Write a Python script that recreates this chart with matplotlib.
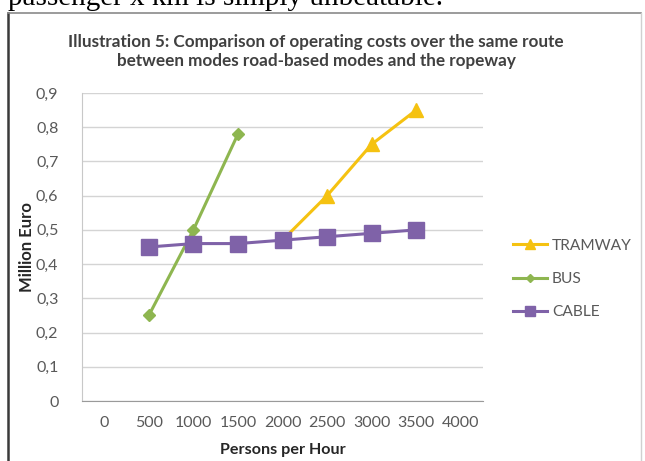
import numpy as np
import matplotlib
matplotlib.use("Agg")
import matplotlib.pyplot as plt
from matplotlib.lines import Line2D

# persons per hour (category axis) and operating cost in million euro
persons = ["0", "500", "1000", "1500", "2000", "2500", "3000", "3500", "4000"]
tramway = [np.nan, np.nan, np.nan, np.nan, 0.47, 0.60, 0.75, 0.85, np.nan]
bus = [np.nan, 0.25, 0.50, 0.78, np.nan, np.nan, np.nan, np.nan, np.nan]
cable = [np.nan, 0.45, 0.46, 0.46, 0.47, 0.48, 0.49, 0.50, np.nan]
y_ticks = [0, 0.1, 0.2, 0.3, 0.4, 0.5, 0.6, 0.7, 0.8, 0.9]
y_labels = ["0", "0,1", "0,2", "0,3", "0,4", "0,5", "0,6", "0,7", "0,8", "0,9"]

W, H = 645, 461
fig = plt.figure(figsize=(W / 100, H / 100), dpi=100)
fig.patch.set_facecolor("white")

# running text of the page above the chart frame
fig.text(8 / W, 1 - 5 / H, "passenger x km is simply unbeatable.",
         family="Liberation Serif", fontsize=21, color="black",
         ha="left", va="baseline")

# chart frame
fig.add_artist(Line2D([8 / W, 8 / W], [0, 1 - 13 / H], transform=fig.transFigure,
                      color="#3a3a3a", lw=1.8))
fig.add_artist(Line2D([8 / W, 641 / W], [1 - 13 / H, 1 - 13 / H], transform=fig.transFigure,
                      color="#8a8a8a", lw=1.2))
fig.add_artist(Line2D([641 / W, 641 / W], [0, 1 - 13 / H], transform=fig.transFigure,
                      color="#d0d0d0", lw=1.0))

font = "Lato"
grey = "#595959"

fig.text(316 / W, 1 - 42 / H,
         "Illustration 5: Comparison of operating costs over the same route",
         family=font, fontweight="bold", fontsize=12.3, color="#404040",
         ha="center", va="center")
fig.text(316 / W, 1 - 61 / H,
         "between modes road-based modes and the ropeway",
         family=font, fontweight="bold", fontsize=12.3, color="#404040",
         ha="center", va="center")

ax = fig.add_axes([82 / W, 1 - 401 / H, (483 - 82) / W, (401 - 93) / H])
x = np.arange(len(persons))

ax.plot(x, tramway, color="#F5C211", lw=2.2, marker="^", markersize=10,
        label="TRAMWAY", zorder=3)
ax.plot(x, bus, color="#8EB650", lw=2.2, marker="D", markersize=6.5,
        label="BUS", zorder=3)
ax.plot(x, cable, color="#7F62A8", lw=2.2, marker="s", markersize=11,
        label="CABLE", zorder=4)

ax.set_xlim(-0.5, len(persons) - 0.5)
ax.set_ylim(0, 0.9)
ax.set_xticks(x)
ax.set_xticklabels(persons)
ax.set_yticks(y_ticks)
ax.set_yticklabels(y_labels)
ax.tick_params(length=0, labelsize=11.5, labelcolor=grey)
ax.tick_params(axis="y", pad=17)
ax.tick_params(axis="x", pad=11)
for lab in ax.get_xticklabels() + ax.get_yticklabels():
    lab.set_family(font)

ax.grid(axis="y", color="#d4d4d4", lw=1)
ax.set_axisbelow(True)
for side in ["top", "right"]:
    ax.spines[side].set_visible(False)
ax.spines["left"].set_color("#c8c8c8")
ax.spines["bottom"].set_color("#9a9a9a")

ax.set_xlabel("Persons per Hour", family=font, fontweight="bold", fontsize=11.6,
              color="#262626")
ax.set_ylabel("Million Euro", family=font, fontweight="bold", fontsize=12,
              color="#262626")
ax.xaxis.set_label_coords(0.5, -(443 - 401) / (401 - 93), transform=ax.transAxes)
ax.yaxis.set_label_coords(-(82 - 35) / (483 - 82), 0.5, transform=ax.transAxes)

leg = ax.legend(loc="center left", bbox_to_anchor=(1.04, (401 - 279) / (401 - 93)),
                frameon=False, prop={"family": font, "size": 11.2}, labelcolor=grey,
                handlelength=2.2, handletextpad=0.3, labelspacing=1.25,
                markerscale=0.7)

fig.savefig("out.png", dpi=100)
